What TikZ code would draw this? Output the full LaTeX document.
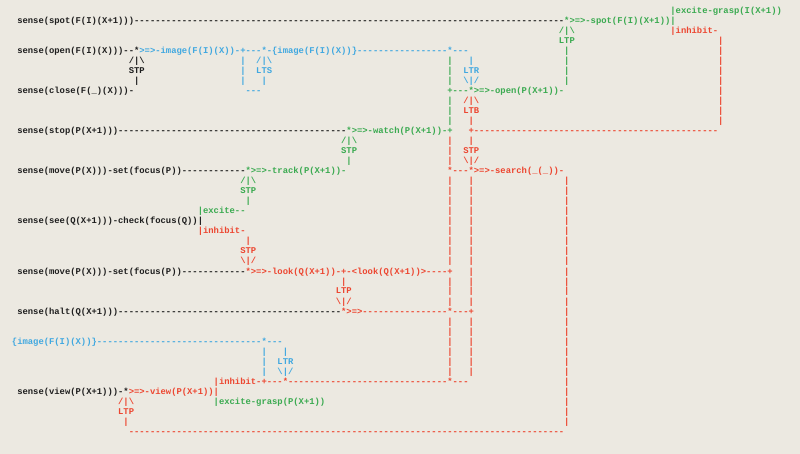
\documentclass[tikz,border=0pt]{standalone}
\usepackage{fontspec}
\setmonofont{Liberation Mono}
\definecolor{bg}{RGB}{236,233,225}
\definecolor{ink}{RGB}{30,30,30}
\definecolor{cblue}{RGB}{64,168,224}
\definecolor{cgreen}{RGB}{58,170,80}
\definecolor{cred}{RGB}{236,70,48}
\ExplSyntaxOn
\NewDocumentCommand\Dsh{m}{\prg_replicate:nn{#1}{-{}}}
\ExplSyntaxOff
\newcounter{tn}
\newcommand\T[4]{\stepcounter{tn}\node[txt,text=#3] (t\arabic{tn}) at ({11.95+5.31*#1},{-(14+10*#2)}) {#4};}
\newcommand\VL[3]{\foreach \rr in {#2}{\T{#1}{\rr}{#3}{|}}}
\tikzset{txt/.style={anchor=base west,inner sep=0pt,outer sep=0pt,font=\ttfamily\bfseries\fontsize{8.85}{10}\selectfont}}
\begin{document}
\begin{tikzpicture}[x=1pt,y=1pt]
\fill[bg] (0,0) rectangle (800,-454);
\useasboundingbox (0,0) rectangle (800,-454);
% row 0-3
\T{124}{0}{cgreen}{|excite-grasp(I(X+1))}
\T{1}{1}{ink}{sense(spot(F(I)(X+1)))}
\T{23}{1}{ink}{\Dsh{81}}
\T{104}{1}{cgreen}{*>=>-spot(F(I)(X+1))|}
\T{103}{2}{cgreen}{/|\textbackslash}
\T{124}{2}{cred}{|inhibit-}
\T{103}{3}{cgreen}{LTP}
% row 4
\T{1}{4}{ink}{sense(open(F(I)(X)))-{}-*}
\T{24}{4}{cblue}{>=>-image(F(I)(X))-+-{}-{}-*-\{image(F(I)(X))\}\Dsh{17}*-{}-{}-}
% rows 5-8
\T{22}{5}{ink}{/|\textbackslash}
\T{46}{5}{cblue}{/|\textbackslash}
\T{22}{6}{ink}{STP}
\T{46}{6}{cblue}{LTS}
\T{85}{6}{cblue}{LTR}
\T{23}{7}{ink}{|}
\T{85}{7}{cblue}{\textbackslash|/}
\T{1}{8}{ink}{sense(close(F(\_)(X)))-}
\T{44}{8}{cblue}{-{}-{}-}
\T{82}{8}{cgreen}{+-{}-{}-*>=>-open(P(X+1))-}
% rows 9-12
\T{85}{9}{cred}{/|\textbackslash}
\T{85}{10}{cred}{LTB}
\T{1}{12}{ink}{sense(stop(P(X+1)))}
\T{20}{12}{ink}{\Dsh{43}}
\T{63}{12}{cgreen}{*>=>-watch(P(X+1))-+}
\T{86}{12}{cred}{+\Dsh{46}}
% rows 13-16
\T{62}{13}{cgreen}{/|\textbackslash}
\T{62}{14}{cgreen}{STP}
\T{85}{14}{cred}{STP}
\T{63}{15}{cgreen}{|}
\T{85}{15}{cred}{\textbackslash|/}
\T{1}{16}{ink}{sense(move(P(X)))-set(focus(P))}
\T{32}{16}{ink}{\Dsh{12}}
\T{44}{16}{cgreen}{*>=>-track(P(X+1))-}
\T{82}{16}{cred}{*-{}-{}-*>=>-search(\_(\_))-}
% rows 17-25
\T{43}{17}{cgreen}{/|\textbackslash}
\T{43}{18}{cgreen}{STP}
\T{44}{19}{cgreen}{|}
\T{35}{20}{cgreen}{|excite-{}-}
\T{1}{21}{ink}{sense(see(Q(X+1)))-check(focus(Q))|}
\T{35}{22}{cred}{|inhibit-}
\T{44}{23}{cred}{|}
\T{43}{24}{cred}{STP}
\T{43}{25}{cred}{\textbackslash|/}
% row 26-30
\T{1}{26}{ink}{sense(move(P(X)))-set(focus(P))}
\T{32}{26}{ink}{\Dsh{12}}
\T{44}{26}{cred}{*>=>-look(Q(X+1))-+-<look(Q(X+1))>-{}-{}-{}-+}
\T{62}{27}{cred}{|}
\T{61}{28}{cred}{LTP}
\T{61}{29}{cred}{\textbackslash|/}
\T{1}{30}{ink}{sense(halt(Q(X+1)))}
\T{20}{30}{ink}{\Dsh{42}}
\T{62}{30}{cred}{*>=>\Dsh{16}*-{}-{}-+}
% rows 33-42
\T{0}{33}{cblue}{\{image(F(I)(X))\}\Dsh{31}*-{}-{}-}
\T{50}{35}{cblue}{LTR}
\T{50}{36}{cblue}{\textbackslash|/}
\T{38}{37}{cred}{|inhibit-+-{}-{}-*\Dsh{30}*-{}-{}-}
\T{1}{38}{ink}{sense(view(P(X+1)))-*}
\T{22}{38}{cred}{>=>-view(P(X+1))|}
\T{20}{39}{cred}{/|\textbackslash}
\T{38}{39}{cgreen}{|excite-grasp(P(X+1))}
\T{20}{40}{cred}{LTP}
\T{21}{41}{cred}{|}
\T{22}{42}{cred}{\Dsh{82}}
% vertical runs
\VL{133}{3,...,11}{cred}
\VL{104}{4,...,7}{cgreen}
\VL{82}{5,6,7,9,10,11}{cgreen}
\VL{82}{13,14,15,17,18,...,25,27,28,29,31,32,...,36}{cred}
\VL{86}{5}{cblue}
\VL{86}{11,13,17,18,...,29,31,32,...,36}{cred}
\VL{104}{17,...,41}{cred}
\VL{43}{5,6,7}{cblue}
\VL{47}{7,34,35,36}{cblue}
\VL{51}{34}{cblue}
\end{tikzpicture}
\end{document}
